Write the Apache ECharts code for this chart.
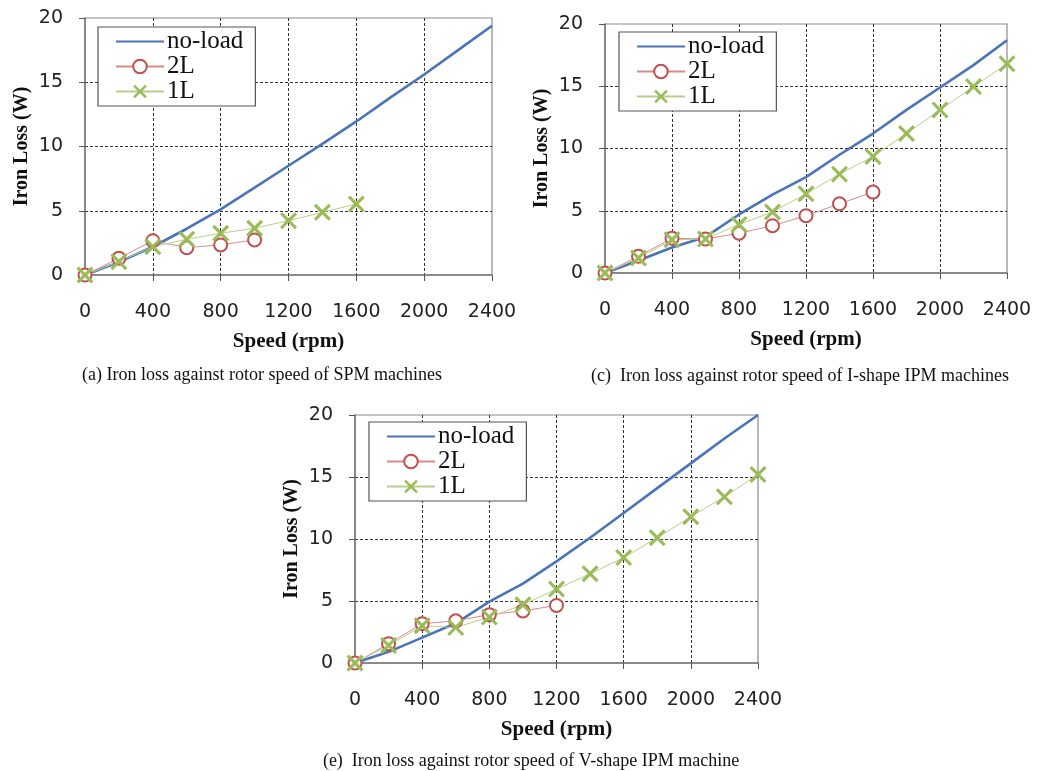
<!DOCTYPE html>
<html>
<head>
<meta charset="utf-8">
<script src="https://cdn.jsdelivr.net/npm/echarts@6/dist/echarts.min.js"></script>
<style>
  html, body { margin: 0; padding: 0; background: #fff; }
  #chart { width: 1043px; height: 771px; }
</style>
</head>
<body>
<div id="chart"></div>
<script>
// speed axis (rpm) and tick labels
const speeds = [0, 200, 400, 600, 800, 1000, 1200, 1400, 1600, 1800, 2000, 2200, 2400]
const seriesNames = ['no-load', '2L', '1L']

// (a) SPM machines
const spmNoLoad = [0, 1.0, 2.2, 3.6, 5.1, 6.8, 8.5, 10.2, 11.95, 13.8, 15.6, 17.5, 19.4]
const spm2L = [0, 1.3, 2.67, 2.13, 2.34, 2.73]
const spm1L = [0, 1.04, 2.2, 2.78, 3.25, 3.64, 4.23, 4.88, 5.53]

// (c) I-shape IPM machines
const ishapeNoLoad = [0, 1.0, 2.05, 2.9, 4.7, 6.3, 7.7, 9.5, 11.2, 13.1, 14.9, 16.7, 18.7]
const ishape2L = [0, 1.34, 2.8, 2.73, 3.2, 3.8, 4.6, 5.56, 6.5]
const ishape1L = [0, 1.2, 2.67, 2.73, 3.9, 4.9, 6.36, 7.94, 9.36, 11.2, 13.1, 14.97, 16.8]

// (e) V-shape IPM machine
const vshapeNoLoad = [0, 0.9, 2.05, 3.2, 4.95, 6.4, 8.2, 10.1, 12.1, 14.1, 16.1, 18.1, 20.0]
const vshape2L = [0, 1.56, 3.17, 3.4, 3.9, 4.2, 4.64]
const vshape1L = [0, 1.42, 3.0, 2.87, 3.7, 4.7, 5.96, 7.2, 8.5, 10.1, 11.8, 13.4, 15.2]

const captions = [
  '(a) Iron loss against rotor speed of SPM machines',
  '(c)  Iron loss against rotor speed of I-shape IPM machines',
  '(e)  Iron loss against rotor speed of V-shape IPM machine'
]

const panels = [
  { noLoad: spmNoLoad, l2: spm2L, l1: spm1L, grid: { left: 85, top: 18, width: 407, height: 257 }, legend: { left: 98, top: 27 }, caption: { x: 262, y: 366 } },
  { noLoad: ishapeNoLoad, l2: ishape2L, l1: ishape1L, grid: { left: 605, top: 24, width: 402, height: 249 }, legend: { left: 619, top: 32 }, caption: { x: 800, y: 367 } },
  { noLoad: vshapeNoLoad, l2: vshape2L, l1: vshape1L, grid: { left: 355, top: 415, width: 403, height: 248 }, legend: { left: 369, top: 422 }, caption: { x: 531, y: 752 } }
]

const BLUE = '#4a74b9'
const RED = '#c0504d'
const GREEN = '#9bbb59'
const CROSS = 'path://M0,1.3L1.3,0L5,3.7L8.7,0L10,1.3L6.3,5L10,8.7L8.7,10L5,6.3L1.3,10L0,8.7L3.7,5Z'
const serif = '"Liberation Serif", "DejaVu Serif", serif'
const sans = '"DejaVu Sans", Verdana, sans-serif'

const pairs = vals => vals.map((v, i) => [speeds[i], v])

const grids = [], xAxes = [], yAxes = [], series = [], legends = [], titles = []

panels.forEach((p, i) => {
  grids.push(Object.assign({ show: true, borderColor: '#8a8a8a', borderWidth: 1.2 }, p.grid))

  xAxes.push({
    type: 'value', gridIndex: i, min: 0, max: 2400, interval: 400,
    name: 'Speed (rpm)', nameLocation: 'middle', nameGap: 56,
    nameTextStyle: { fontFamily: serif, fontWeight: 'bold', fontSize: 21, color: '#111' },
    axisLine: { show: true, lineStyle: { color: '#777', width: 1.5 } },
    axisTick: { show: true, length: 6, lineStyle: { color: '#555' } },
    axisLabel: { margin: 28, fontFamily: sans, fontSize: 19, color: '#222', formatter: v => String(v) },
    splitLine: { show: true, showMinLine: false, showMaxLine: false, lineStyle: { color: '#333', type: [3, 2], width: 1 } }
  })

  yAxes.push({
    type: 'value', gridIndex: i, min: 0, max: 20, interval: 5,
    name: 'Iron Loss (W)', nameLocation: 'middle', nameGap: 53,
    nameTextStyle: { fontFamily: serif, fontWeight: 'bold', fontSize: 20, color: '#111' },
    axisLine: { show: true, lineStyle: { color: '#777', width: 1.5 } },
    axisTick: { show: true, length: 6, lineStyle: { color: '#555' } },
    axisLabel: { margin: 22, fontFamily: sans, fontSize: 19, color: '#222' },
    splitLine: { show: true, showMinLine: false, showMaxLine: false, lineStyle: { color: '#333', type: [3, 2], width: 1 } }
  })

  series.push(
    {
      name: 'no-load', type: 'line', xAxisIndex: i, yAxisIndex: i,
      data: pairs(p.noLoad), symbol: 'none',
      lineStyle: { color: BLUE, width: 2.6 }, itemStyle: { color: BLUE }
    },
    {
      name: '2L', type: 'line', xAxisIndex: i, yAxisIndex: i,
      data: pairs(p.l2), symbol: 'emptyCircle', symbolSize: 13,
      lineStyle: { color: '#d98a88', width: 1 },
      itemStyle: { color: RED, borderColor: RED, borderWidth: 3 }
    },
    {
      name: '1L', type: 'line', xAxisIndex: i, yAxisIndex: i,
      data: pairs(p.l1), symbol: CROSS, symbolSize: 17,
      lineStyle: { color: '#b6cf8a', width: 1 },
      itemStyle: { color: GREEN }
    }
  )

  legends.push({
    data: [
      { name: 'no-load', itemStyle: { opacity: 0 } },
      { name: '2L' },
      { name: '1L' }
    ],
    orient: 'vertical', left: p.legend.left, top: p.legend.top,
    itemWidth: 48, itemHeight: 17, itemGap: 0, padding: [2, 12, 2, 17],
    backgroundColor: '#fff', borderColor: '#555', borderWidth: 1.2, borderRadius: 0,
    selectedMode: false,
    textStyle: { fontFamily: serif, fontSize: 25, lineHeight: 23, color: '#111', padding: [0, 0, 0, -2] }
  })

  titles.push({
    text: captions[i], left: p.caption.x, top: p.caption.y, textAlign: 'center', padding: 0,
    textStyle: { fontFamily: serif, fontWeight: 'normal', fontSize: 18, color: '#111' }
  })
})

const chart = echarts.init(document.getElementById('chart'))
chart.setOption({
  animation: false,
  backgroundColor: '#fff',
  title: titles,
  legend: legends,
  grid: grids,
  xAxis: xAxes,
  yAxis: yAxes,
  series: series
})
</script>
</body>
</html>
